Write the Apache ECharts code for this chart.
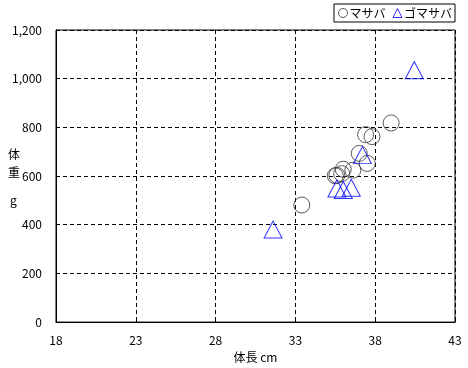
<!DOCTYPE html>
<html><head><meta charset="utf-8">
<script src="https://cdn.jsdelivr.net/npm/echarts@6/dist/echarts.min.js"></script>
<style>html,body{margin:0;padding:0;background:#fff}#c{width:468px;height:368px}</style>
</head><body><div id="c"></div>
<script>
const seriesNames = ['マサバ', 'ゴマサバ'];
const masabaLength = [39.0, 37.4, 37.8, 37.0, 37.5, 36.6, 36.0, 35.6, 35.5, 35.9, 33.4];
const masabaWeight = [818, 770, 762, 693, 652, 624, 628, 603, 601, 610, 481];
const gomaLength = [31.6, 35.6, 36.0, 36.5, 37.2, 40.45];
const gomaWeight = [380, 549, 543, 552, 686, 1035];
const xTicks = [18, 23, 28, 33, 38, 43];
const yTicks = [0, 200, 400, 600, 800, 1000, 1200];

const font = '"Noto Sans CJK JP", "Liberation Sans", sans-serif';
const chart = echarts.init(document.getElementById('c'));
const pair = (xs, ys) => xs.map((x, i) => [x, ys[i]]);
chart.setOption({
  animation: false,
  backgroundColor: '#fff',
  textStyle: { fontFamily: font },
  grid: { left: 56, right: 13, top: 30, bottom: 43, show: true, borderColor: '#000', borderWidth: 1 },
  legend: {
    right: 13, top: 4, orient: 'horizontal',
    data: seriesNames,
    borderColor: '#000', borderWidth: 1, padding: [3, 3, 3, 4],
    itemWidth: 9, itemHeight: 9, itemGap: 7,
    itemStyle: { borderWidth: 1 },
    textStyle: { fontSize: 12, color: '#000', fontFamily: font, padding: [0, 0, 0, -3] }
  },
  xAxis: {
    type: 'value', min: xTicks[0], max: xTicks[xTicks.length - 1], interval: 5,
    name: '体長 cm', nameLocation: 'middle', nameGap: 25,
    nameTextStyle: { fontSize: 12, color: '#000', fontFamily: font },
    axisLine: { lineStyle: { color: '#000' } },
    axisTick: { inside: true, length: 3, lineStyle: { color: '#000' } },
    axisLabel: { color: '#000', fontSize: 12, margin: 12, fontFamily: font },
    splitLine: { lineStyle: { color: '#000', type: [4, 3] } }
  },
  yAxis: {
    type: 'value', min: yTicks[0], max: yTicks[yTicks.length - 1], interval: 200,
    axisLine: { show: true, lineStyle: { color: '#000' } },
    axisTick: { show: true, inside: true, length: 3, lineStyle: { color: '#000' } },
    axisLabel: { color: '#000', fontSize: 12, margin: 14, fontFamily: font,
      formatter: v => v.toLocaleString('en-US') },
    splitLine: { lineStyle: { color: '#000', type: [4, 3] } }
  },
  graphic: [
    { type: 'text', left: 8, top: 145, style: { text: '体\n重', fontSize: 12, lineHeight: 18, fill: '#000', fontFamily: font } },
    { type: 'text', left: 10, top: 194, style: { text: 'g', fontSize: 12, fill: '#000', fontFamily: font } }
  ],
  series: [
    { name: seriesNames[0], type: 'scatter', symbol: 'circle', symbolSize: 16,
      data: pair(masabaLength, masabaWeight),
      itemStyle: { color: 'rgba(0,0,0,0)', borderColor: '#333', borderWidth: 1 } },
    { name: seriesNames[1], type: 'scatter', symbol: 'triangle', symbolSize: [18, 17],
      data: pair(gomaLength, gomaWeight),
      itemStyle: { color: 'rgba(0,0,0,0)', borderColor: '#0000ff', borderWidth: 1 } }
  ]
});
</script></body></html>
